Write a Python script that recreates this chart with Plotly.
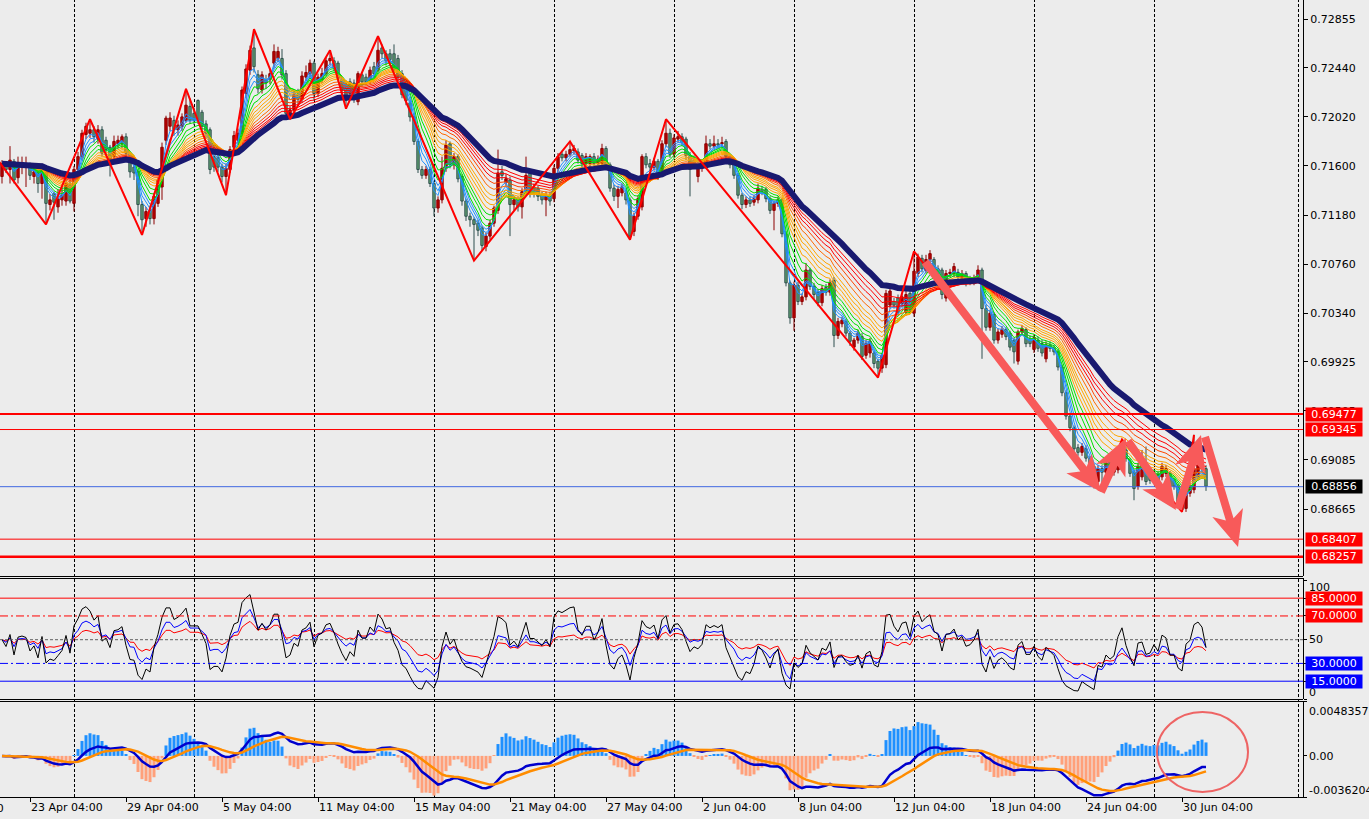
import numpy as np
import plotly.graph_objects as go

# ---------------- data (prices in 1e-4 units) ----------------
opens = [7151,7162,7157,7164,7150,7160,7160,7162,7151,7154,7145,7155,7127,7136,7125,7131,7130,7145,7128,7157,
 7168,7187,7188,7191,7183,7191,7182,7176,7168,7179,7179,7185,7165,7159,7155,7127,7115,7122,7115,7128,
 7142,7182,7194,7199,7191,7194,7199,7211,7205,7216,7206,7196,7191,7168,7167,7159,7151,7157,7176,7182,
 7188,7222,7242,7261,7238,7225,7234,7234,7248,7252,7252,7239,7202,7208,7221,7217,7236,7239,7248,7222,
 7234,7239,7250,7250,7248,7234,7230,7232,7231,7215,7238,7236,7232,7245,7242,7261,7256,7256,7256,7252,
 7239,7228,7214,7202,7181,7157,7152,7157,7145,7124,7131,7158,7179,7161,7168,7151,7130,7117,7114,7111,
 7107,7091,7100,7111,7122,7155,7146,7148,7127,7131,7125,7138,7154,7142,7141,7135,7131,7135,7132,7158,
 7170,7167,7170,7173,7172,7169,7162,7162,7168,7162,7162,7175,7161,7141,7134,7137,7137,7131,7104,7117,
 7125,7168,7162,7159,7164,7154,7179,7188,7170,7183,7185,7183,7169,7165,7151,7158,7161,7179,7177,7179,
 7179,7181,7168,7165,7152,7135,7127,7131,7129,7131,7140,7140,7132,7122,7128,7131,7102,7060,7030,7058,
 7044,7048,7071,7057,7052,7043,7056,7052,7062,7015,7025,7027,7017,7005,7011,7014,6998,7000,7000,6993,
 6987,6990,7041,7044,7047,7042,7035,7051,7034,7068,7081,7071,7080,7080,7072,7071,7047,7068,7068,7069,
 7064,7068,7064,7060,7065,7071,7038,7022,7033,7011,7016,7020,7017,7011,6993,7018,7020,7012,7003,7011,
 7008,6995,7007,7004,7001,6988,6966,6946,6936,6919,6915,6918,6910,6903,6890,6901,6898,6907,6898,6900,
 6917,6917,6907,6898,6886,6894,6903,6895,6893,6896,6894,6897,6897,6891,6886,6873,6867,6880,6883,6894,
 6904,6901]
highs = [7165,7164,7177,7166,7168,7168,7168,7163,7159,7157,7162,7158,7136,7138,7140,7142,7152,7148,7160,7172,
 7191,7197,7200,7194,7195,7194,7185,7178,7186,7186,7187,7188,7168,7161,7157,7130,7125,7126,7137,7150,
 7180,7203,7206,7203,7199,7205,7226,7218,7210,7217,7208,7199,7193,7172,7170,7162,7162,7177,7190,7192,
 7228,7247,7263,7277,7242,7241,7238,7243,7264,7262,7260,7242,7211,7224,7226,7241,7246,7251,7250,7239,
 7244,7253,7259,7253,7250,7236,7231,7235,7234,7241,7240,7239,7245,7249,7271,7264,7259,7260,7264,7255,
 7242,7230,7217,7205,7183,7160,7160,7159,7147,7134,7168,7182,7181,7171,7170,7153,7132,7120,7116,7114,
 7109,7103,7114,7126,7174,7160,7153,7151,7134,7134,7141,7168,7156,7145,7143,7138,7138,7138,7161,7171,
 7173,7173,7181,7178,7175,7171,7171,7170,7171,7169,7179,7177,7163,7144,7143,7145,7140,7133,7120,7135,
 7170,7171,7166,7167,7166,7182,7200,7192,7187,7190,7188,7185,7172,7169,7162,7165,7186,7183,7186,7183,
 7185,7183,7170,7167,7154,7137,7134,7134,7135,7145,7143,7142,7134,7130,7134,7133,7104,7062,7061,7061,
 7051,7077,7073,7060,7055,7058,7059,7063,7065,7030,7031,7029,7019,7013,7020,7017,7011,7013,7002,6995,
 7000,7054,7056,7047,7050,7051,7053,7054,7087,7085,7084,7084,7088,7082,7075,7073,7071,7072,7077,7072,
 7071,7070,7066,7067,7075,7073,7041,7037,7035,7021,7023,7022,7019,7013,7020,7024,7022,7015,7016,7014,
 7011,7010,7010,7007,7003,6990,6968,6948,6938,6922,6923,6921,6912,6905,6904,6904,6909,6910,6906,6919,
 6926,6920,6910,6900,6906,6917,6920,6898,6900,6899,6906,6904,6899,6893,6888,6875,6886,6889,6930,6910,
 6918,6904]
lows = [7145,7154,7145,7145,7145,7153,7142,7148,7145,7137,7132,7110,7122,7114,7120,7126,7126,7128,7121,7154,
 7165,7183,7184,7180,7179,7168,7170,7151,7163,7175,7175,7168,7150,7148,7117,7101,7108,7110,7110,7125,
 7131,7178,7190,7186,7186,7190,7197,7196,7195,7196,7190,7184,7153,7155,7155,7146,7135,7154,7173,7179,
 7185,7218,7238,7240,7222,7222,7226,7230,7244,7249,7234,7202,7200,7205,7213,7214,7233,7236,7216,7219,
 7231,7237,7246,7241,7232,7221,7209,7218,7214,7212,7228,7229,7230,7236,7240,7252,7246,7247,7239,7233,
 7218,7212,7198,7178,7154,7149,7149,7142,7117,7120,7128,7155,7158,7157,7146,7126,7113,7108,7079,7100,
 7088,7087,7097,7108,7119,7148,7143,7100,7122,7121,7115,7135,7133,7133,7130,7127,7117,7126,7129,7155,
 7164,7164,7168,7170,7162,7158,7159,7158,7158,7158,7160,7158,7138,7130,7124,7134,7127,7097,7100,7114,
 7122,7158,7156,7156,7148,7151,7176,7167,7167,7180,7177,7165,7134,7158,7146,7155,7158,7174,7175,7175,
 7176,7165,7158,7149,7132,7123,7124,7125,7126,7128,7135,7129,7119,7105,7125,7099,7057,7025,7019,7041,
 7041,7045,7054,7046,7040,7040,7049,7049,7005,7012,7022,7014,7006,7002,7008,6994,6995,6996,6987,6979,
 6983,6987,7038,7038,7032,7039,7032,7034,7031,7065,7069,7068,7077,7068,7065,7046,7044,7065,7065,7062,
 7061,7057,7058,7058,7062,6995,7019,7019,7008,7008,7013,7011,7002,6991,6990,7015,7005,7005,7000,7001,
 6997,6992,7001,6998,6985,6963,6943,6933,6915,6912,6912,6907,6897,6884,6884,6882,6895,6898,6895,6897,
 6914,6907,6894,6874,6883,6891,6887,6888,6890,6888,6891,6894,6883,6883,6868,6864,6864,6877,6880,6891,
 6898,6882]
closes = [7162,7157,7165,7148,7162,7163,7162,7152,7155,7145,7159,7128,7131,7129,7132,7135,7145,7130,7157,7168,
 7188,7194,7191,7185,7191,7171,7174,7165,7181,7182,7185,7171,7155,7154,7127,7114,7121,7115,7134,7148,
 7176,7201,7201,7191,7195,7202,7212,7199,7199,7199,7194,7188,7157,7159,7159,7151,7158,7174,7186,7188,
 7225,7243,7259,7245,7226,7238,7231,7239,7258,7258,7238,7205,7208,7221,7217,7237,7240,7248,7222,7236,
 7239,7250,7252,7245,7235,7225,7216,7222,7217,7239,7232,7232,7242,7239,7259,7256,7250,7251,7242,7236,
 7221,7216,7202,7181,7157,7152,7157,7145,7124,7131,7158,7178,7161,7168,7149,7130,7117,7114,7110,7105,
 7092,7100,7111,7124,7154,7152,7149,7127,7131,7125,7138,7152,7137,7137,7134,7131,7135,7130,7158,7168,
 7167,7170,7174,7175,7165,7162,7168,7168,7162,7166,7175,7161,7141,7134,7140,7142,7131,7100,7117,7132,
 7168,7161,7159,7164,7151,7179,7188,7170,7184,7185,7180,7169,7157,7161,7159,7162,7179,7177,7179,7178,
 7180,7168,7161,7152,7135,7127,7131,7128,7132,7141,7138,7132,7122,7128,7131,7102,7060,7030,7058,7044,
 7048,7071,7057,7050,7043,7055,7052,7060,7015,7027,7028,7017,7010,7011,7017,6997,7008,7010,6991,6987,
 6998,7051,7053,7041,7035,7048,7050,7037,7070,7082,7072,7080,7085,7071,7068,7050,7068,7069,7074,7065,
 7068,7060,7061,7064,7071,7038,7022,7034,7011,7018,7020,7014,7005,7001,7018,7021,7008,7008,7013,7004,
 7000,7007,7004,7001,6988,6966,6946,6936,6918,6915,6920,6910,6900,6886,6901,6898,6906,6901,6903,6916,
 6924,6910,6897,6884,6903,6904,6890,6891,6897,6891,6903,6901,6886,6886,6871,6866,6883,6886,6901,6904,
 6901,6886]

# zigzag vertices (bar index, price in 1e-4)
zz_bar = [-3, 11, 22, 35, 46, 56, 63, 72, 82, 86, 94, 118, 142, 157, 166, 219, 228, 275, 280, 295, 298]
zz_val = [7174, 7110, 7200, 7101, 7226, 7135, 7277, 7200, 7259, 7209, 7271, 7079, 7181, 7097, 7200, 6979, 7087, 6882, 6926, 6864, 6930]

date_bars = [7, 31, 55, 79, 103, 127, 151, 175, 199, 223, 247, 271, 295]
date_labels = ["23 Apr 04:00", "29 Apr 04:00", "5 May 04:00", "11 May 04:00", "15 May 04:00",
               "21 May 04:00", "27 May 04:00", "2 Jun 04:00", "8 Jun 04:00", "12 Jun 04:00",
               "18 Jun 04:00", "24 Jun 04:00", "30 Jun 04:00"]
price_ticks = [0.72855, 0.72440, 0.72020, 0.71600, 0.71180, 0.70760, 0.70340, 0.69925, 0.69505, 0.69085, 0.68665]
red_levels = [0.69477, 0.69345, 0.68407, 0.68257]
red_level_widths = [2, 1, 1, 2.5]
current_price = 0.68856
rsi_levels = [85, 70, 50, 30, 15]

# ---------------- computations ----------------
o = np.array(opens) / 10000.0
h = np.array(highs) / 10000.0
l = np.array(lows) / 10000.0
c = np.array(closes) / 10000.0
n = len(c)
bars = np.arange(n)


def ema(x, p):
    a = 2.0 / (p + 1)
    out = np.empty(len(x))
    out[0] = x[0]
    for i in range(1, len(x)):
        out[i] = out[i - 1] + a * (x[i] - out[i - 1])
    return out


def rsi(x, p):
    d = np.diff(x)
    seed = np.mean(np.abs(d[:p])) / 2
    ag, al = seed, seed
    out = [50.0]
    for v in d:
        ag += (max(v, 0) - ag) / p
        al += (max(-v, 0) - al) / p
        out.append(100 * ag / (ag + al) if ag + al > 0 else 50)
    return np.array(out)


# ---------------- pixel helpers (plot area 1303 x 797) ----------------
PW, PH = 1303.0, 797.0


def px(x):
    return x / PW


def py(y):
    return (PH - y) / PH


FONT = "DejaVu Sans"
fig = go.Figure()

# candles: wicks then bodies
up = c >= o
for mask, col in [(up, "#8b0000"), (~up, "#2f4f4f")]:
    wx, wy = [], []
    for i in bars[mask]:
        wx += [i, i, None]
        wy += [l[i], h[i], None]
    fig.add_trace(go.Scatter(x=wx, y=wy, mode="lines", line=dict(color=col, width=1),
                             hoverinfo="skip", xaxis="x", yaxis="y"))
body_lo = np.minimum(o, c)
body_h = np.maximum(np.abs(c - o), 0.00002)
fig.add_trace(go.Bar(x=bars, y=body_h, base=body_lo, width=0.6,
                     marker=dict(color=np.where(up, "#e80000", "#90ee90"),
                                 line=dict(color=np.where(up, "#8b0000", "#2f4f4f"), width=1)),
                     hoverinfo="skip", xaxis="x", yaxis="y"))

ribbon = [(3, "#1e90ff"), (4, "#1e90ff"), (5, "#1e90ff"),
          (6, "#00e000"), (8, "#00e000"), (10, "#00e000"),
          (12, "#ffa500"), (14, "#ffa500"), (16, "#ffa500"), (18, "#ffa500"),
          (21, "#ff6a00"), (24, "#ff4500"),
          (27, "#ff0000"), (30, "#ff0000"), (33, "#ff0000")]
for p, col in ribbon:
    fig.add_trace(go.Scatter(x=bars, y=ema(c, p), mode="lines", line=dict(color=col, width=1),
                             hoverinfo="skip", xaxis="x", yaxis="y"))
fig.add_trace(go.Scatter(x=bars, y=ema(c, 40), mode="lines", line=dict(color="#191970", width=6),
                         hoverinfo="skip", xaxis="x", yaxis="y"))
fig.add_trace(go.Scatter(x=zz_bar, y=np.array(zz_val) / 10000.0, mode="lines",
                         line=dict(color="#ff0000", width=2), hoverinfo="skip", xaxis="x", yaxis="y"))

# RSI panel
for p, col in [(24, "#ff0000"), (12, "#0000ff"), (6, "#000000")]:
    fig.add_trace(go.Scatter(x=bars, y=rsi(c, p), mode="lines", line=dict(color=col, width=1),
                             hoverinfo="skip", xaxis="x", yaxis="y2"))

# MACD panel
dif = ema(c, 12) - ema(c, 26)
dea = ema(dif, 9)
hist = 3.0 * (dif - dea)
fig.add_trace(go.Bar(x=bars, y=hist, width=0.75,
                     marker=dict(color=["#1e90ff" if v >= 0 else "#ffa07a" for v in hist], line=dict(width=0)),
                     hoverinfo="skip", xaxis="x", yaxis="y3"))
fig.add_trace(go.Scatter(x=bars, y=dif, mode="lines", line=dict(color="#0000cd", width=2.5),
                         hoverinfo="skip", xaxis="x", yaxis="y3"))
fig.add_trace(go.Scatter(x=bars, y=dea, mode="lines", line=dict(color="#ff8c00", width=2.5),
                         hoverinfo="skip", xaxis="x", yaxis="y3"))

shapes = []
# vertical grid
for gx in [74.5 + 120 * k for k in range(10)] + [1298.5]:
    shapes.append(dict(type="line", xref="paper", yref="paper", x0=px(gx), x1=px(gx), y0=0, y1=1,
                       line=dict(color="black", width=1, dash="3px,2px"), layer="below"))
# panel borders (half-pixel centred for crisp 1px lines)
for by in [576.5, 578.5, 699.5, 701.5]:
    shapes.append(dict(type="line", xref="paper", yref="paper", x0=0, x1=1, y0=py(by), y1=py(by),
                       line=dict(color="black", width=1)))
# horizontal price levels
for lv, w in zip(red_levels, red_level_widths):
    shapes.append(dict(type="line", xref="paper", yref="y", x0=0, x1=1, y0=lv, y1=lv,
                       line=dict(color="#ff0000", width=w)))
shapes.append(dict(type="line", xref="paper", yref="y", x0=0, x1=1, y0=current_price, y1=current_price,
                   line=dict(color="#4169e1", width=1)))
# RSI levels
rsi_styles = {85: ("#ff0000", "solid"), 70: ("#ff0000", "8px,3px,2px,3px"), 50: ("#606060", "3px,2px"),
              30: ("#0000ff", "8px,3px,2px,3px"), 15: ("#0000ff", "solid")}
for lv in rsi_levels:
    col, d = rsi_styles[lv]
    shapes.append(dict(type="line", xref="paper", yref="y2", x0=0, x1=1, y0=lv, y1=lv,
                       line=dict(color=col, width=1, dash=d)))


def arrow_path(x0, y0, x1, y1, shaft=8, head_len=36, head_w=32):
    dx, dy = x1 - x0, y1 - y0
    L = (dx * dx + dy * dy) ** 0.5
    ux, uy = dx / L, dy / L
    nx, ny = -uy, ux
    jx, jy = x1 - ux * head_len * 0.8, y1 - uy * head_len * 0.8
    bx, by = x1 - ux * head_len, y1 - uy * head_len
    pts = [(x0 + nx * shaft / 2, y0 + ny * shaft / 2),
           (jx + nx * shaft / 2, jy + ny * shaft / 2),
           (bx + nx * head_w / 2, by + ny * head_w / 2),
           (x1, y1),
           (bx - nx * head_w / 2, by - ny * head_w / 2),
           (jx - nx * shaft / 2, jy - ny * shaft / 2),
           (x0 - nx * shaft / 2, y0 - ny * shaft / 2)]
    return "M " + " L ".join(f"{px(a):.5f},{py(b):.5f}" for a, b in pts) + " Z"


arrows = [(925, 262, 1101, 492), (1101, 492, 1126, 438), (1128, 441, 1176, 510),
          (1178, 509, 1201, 435), (1205, 437, 1238, 547)]
for a in arrows:
    shapes.append(dict(type="path", xref="paper", yref="paper", path=arrow_path(*a),
                       fillcolor="rgb(248,90,90)", line=dict(width=0)))
shapes.append(dict(type="circle", xref="paper", yref="paper", x0=px(1157), x1=px(1248), y0=py(792), y1=py(712),
                   line=dict(color="rgb(238,100,100)", width=2)))

ann = []


def box(text, y, yref, bg):
    ann.append(dict(x=px(1305), xref="paper", y=y, yref=yref, text=text, showarrow=False,
                    xanchor="left", yanchor="middle", bgcolor=bg, width=56, height=13, align="center",
                    borderpad=0, font=dict(family=FONT, size=11, color="white")))


def plain(text, xp, ypx):
    ann.append(dict(x=px(xp), xref="paper", y=py(ypx), yref="paper", text=text, showarrow=False,
                    xanchor="left", yanchor="middle", font=dict(family=FONT, size=11, color="black")))


plain("100", 1307, 587)
plain("50", 1307, 639.5)
plain("0", 1307, 692)
plain("0.0048357", 1307, 711.5)
plain("0.00", 1307, 756.5)
plain("-0.0036204", 1306.5, 790)
for lv in red_levels:
    box(f"{lv:.5f}", lv, "y", "#ff0000")
box(f"{current_price:.5f}", current_price, "y", "#000000")
box("85.0000", 85, "y2", "#ff0000")
box("70.0000", 70, "y2", "#ff0000")
box("30.0000", 30, "y2", "#0000ff")
box("15.0000", 15, "y2", "#0000ff")
ann.append(dict(x=px(6), xref="paper", y=py(809), yref="paper", text="17 Apr 04:00", showarrow=False,
                xanchor="right", yanchor="middle", font=dict(family=FONT, size=11, color="black")))

fig.update_layout(
    width=1369, height=819,
    margin=dict(l=0, r=66, t=0, b=22),
    paper_bgcolor="#ececec", plot_bgcolor="#ececec",
    showlegend=False, barmode="overlay",
    font=dict(family=FONT, size=11, color="black"),
    xaxis=dict(range=[-0.5, 325.25], anchor="y3", tickvals=date_bars, ticktext=date_labels,
               ticks="outside", ticklen=4, tickcolor="black", ticklabelposition="outside right",
               showline=True, linecolor="black", linewidth=1, showgrid=False, zeroline=False,
               tickfont=dict(family=FONT, size=11)),
    yaxis=dict(domain=[1 - 576 / PH, 1], range=[0.680918, 0.730201], side="right", anchor="x",
               tickvals=price_ticks, ticktext=[f"{v:.5f}" for v in price_ticks],
               ticks="outside", ticklen=4, tickcolor="black", showline=True, linecolor="black",
               showgrid=False, zeroline=False, tickfont=dict(family=FONT, size=11)),
    yaxis2=dict(domain=[1 - 699 / PH, 1 - 578 / PH], range=[0, 102], side="right", anchor="x",
                tickvals=[100, 85, 70, 50, 30, 15, 0], showticklabels=False, ticks="outside", ticklen=3,
                tickcolor="black", showline=True, linecolor="black", showgrid=False, zeroline=False),
    yaxis3=dict(domain=[0, 1 - 701 / PH], range=[-0.0036204, 0.0048357], side="right", anchor="x",
                tickvals=[0.0048357, 0, -0.0036204], showticklabels=False, ticks="outside", ticklen=3,
                tickcolor="black", showline=True, linecolor="black", showgrid=False, zeroline=False),
    shapes=shapes, annotations=ann,
)

fig.write_html("out.html")
